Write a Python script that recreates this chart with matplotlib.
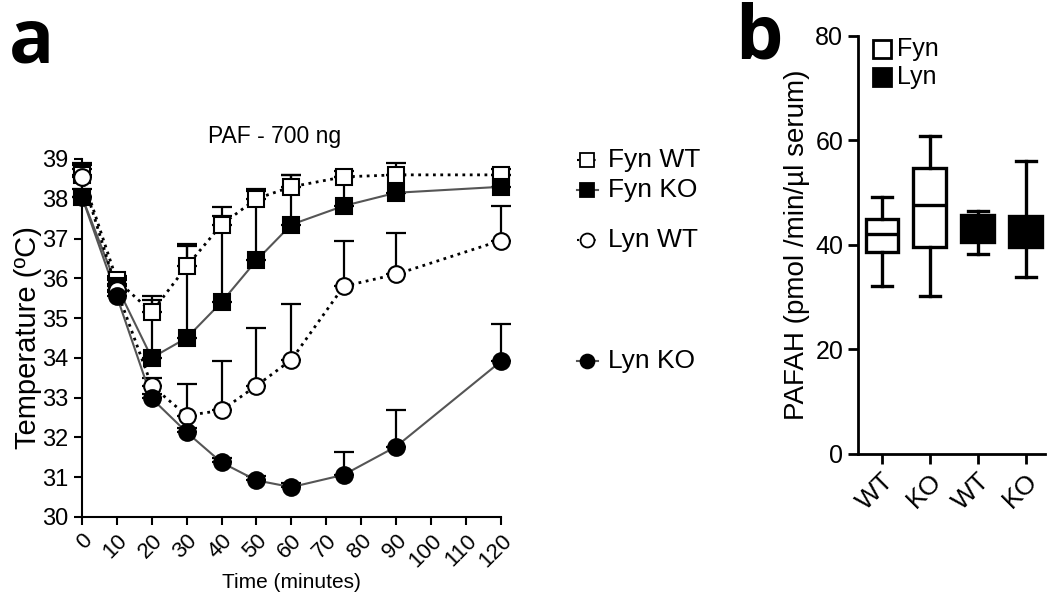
import matplotlib
matplotlib.use('Agg')
import matplotlib.pyplot as plt
import matplotlib.transforms as mtransforms
import numpy as np

plt.rcParams['font.family'] = ['Liberation Sans', 'DejaVu Sans']

# panel a: body temperature after PAF
time = [0, 10, 20, 30, 40, 50, 60, 75, 90, 120]
fyn_wt = [38.6, 35.95, 35.15, 36.3, 37.35, 38.0, 38.3, 38.55, 38.6, 38.6]
fyn_wt_err = [0.3, 0.1, 0.4, 0.55, 0.45, 0.25, 0.3, 0.15, 0.3, 0.15]
fyn_ko = [38.05, 35.8, 34.0, 34.5, 35.4, 36.45, 37.35, 37.82, 38.15, 38.3]
fyn_ko_err = [0.7, 0.2, 1.45, 2.3, 2.17, 1.75, 1.25, 0.73, 0.45, 0.3]
lyn_wt = [38.55, 35.7, 33.3, 32.55, 32.68, 33.3, 33.95, 35.8, 36.1, 36.95]
lyn_wt_err = [0.3, 0.15, 0.2, 0.8, 1.25, 1.45, 1.4, 1.15, 1.03, 0.87]
lyn_ko = [38.05, 35.55, 32.98, 32.13, 31.37, 30.92, 30.75, 31.06, 31.77, 33.91]
lyn_ko_err = [0.2, 0.1, 0.1, 0.1, 0.1, 0.1, 0.1, 0.57, 0.92, 0.94]

# panel b: PAFAH activity box stats (whislo, q1, med, q3, whishi)
box_labels = ['WT', 'KO', 'WT', 'KO']
box_whislo = [32.1, 30.3, 38.2, 33.8]
box_q1 = [38.7, 39.6, 40.5, 39.6]
box_med = [42.0, 47.6, 43.0, 43.0]
box_q3 = [44.9, 54.7, 45.7, 45.5]
box_whishi = [49.1, 60.8, 46.5, 56.1]
box_filled = [False, False, True, True]

fig = plt.figure(figsize=(10.5, 5.96), dpi=100)

# ---------------- panel a ----------------
ax = fig.add_axes([0.078, 0.1326, 0.399, 0.6007])
series = [
    ('Fyn WT', fyn_wt, fyn_wt_err, 's', 'white', 'black', ':', 2.0),
    ('Fyn KO', fyn_ko, fyn_ko_err, 's', 'black', '#555555', '-', 1.5),
    ('Lyn WT', lyn_wt, lyn_wt_err, 'o', 'white', 'black', ':', 2.0),
    ('Lyn KO', lyn_ko, lyn_ko_err, 'o', 'black', '#555555', '-', 1.5),
]
for name, y, err, mk, fc, lc, ls, lw in series:
    ax.errorbar(time, y, yerr=[np.zeros(len(err)), err], fmt='none', ecolor='black',
                elinewidth=1.6, capsize=7, capthick=1.6, clip_on=False, zorder=2)
    ax.plot(time, y, color=lc, ls=ls, lw=lw, zorder=3, clip_on=False)
    ax.plot(time, y, ls='none', marker=mk, ms=12, mfc=fc, mec='black', mew=1.5,
            zorder=4, clip_on=False)

ax.set_xlim(0, 120)
ax.set_ylim(30, 39)
ax.set_xticks(np.arange(0, 121, 10))
ax.set_yticks(np.arange(30, 40, 1))
ax.tick_params(axis='both', direction='out', length=6, width=1.5, labelsize=17)
ax.tick_params(axis='x', labelsize=16)
for lab in ax.get_xticklabels():
    lab.set_rotation(45)
    lab.set_ha('right')
    lab.set_rotation_mode('anchor')
for s in ['top', 'right']:
    ax.spines[s].set_visible(False)
for s in ['left', 'bottom']:
    ax.spines[s].set_linewidth(1.5)
ax.set_xlabel('Time (minutes)', fontsize=15, labelpad=1)
ax.set_ylabel('Temperature (ºC)', fontsize=21, labelpad=0)
ax.text(0.46, 1.03, 'PAF - 700 ng', transform=ax.transAxes, ha='center', va='bottom', fontsize=16.5)

# side legend next to line ends
trans = mtransforms.blended_transform_factory(ax.transAxes, ax.transData)
legend_y = [38.97, 38.22, 36.96, 33.92]
for (name, y, err, mk, fc, lc, ls, lw), ly in zip(series, legend_y):
    ax.plot([1.181, 1.232], [ly, ly], transform=trans, color=lc, ls=ls, lw=1.5, clip_on=False)
    ax.plot([1.205], [ly], transform=trans, marker=mk, ms=10, mfc=fc, mec='black', mew=1.3,
            clip_on=False)
    ax.text(1.255, ly, name, transform=trans, va='center', ha='left', fontsize=19)

fig.text(0.008, 0.99, 'a', fontsize=54, fontweight='bold', family='Open Sans', va='top')

# ---------------- panel b ----------------
bx = fig.add_axes([0.817, 0.2383, 0.178, 0.7017])
stats = []
for i in range(len(box_labels)):
    stats.append(dict(whislo=box_whislo[i], q1=box_q1[i], med=box_med[i],
                      q3=box_q3[i], whishi=box_whishi[i], fliers=[]))
bp = bx.bxp(stats, positions=range(len(box_labels)), widths=0.68, patch_artist=True,
            showfliers=False, capwidths=0.42,
            boxprops=dict(linewidth=2.4, edgecolor='black'),
            medianprops=dict(linewidth=2.4, color='black'),
            whiskerprops=dict(linewidth=2.4, color='black'),
            capprops=dict(linewidth=2.4, color='black'))
for patch, filled in zip(bp['boxes'], box_filled):
    patch.set_facecolor('black' if filled else 'white')

bx.set_xlim(-0.5, 3.4)
bx.set_ylim(0, 80)
bx.set_yticks([0, 20, 40, 60, 80])
bx.set_xticks(range(len(box_labels)))
bx.set_xticklabels(box_labels)
bx.tick_params(axis='both', direction='out', length=7, width=2, labelsize=18)
bx.tick_params(axis='x', labelsize=19)
for lab in bx.get_xticklabels():
    lab.set_rotation(45)
    lab.set_ha('right')
    lab.set_rotation_mode('anchor')
for s in ['top', 'right']:
    bx.spines[s].set_visible(False)
for s in ['left', 'bottom']:
    bx.spines[s].set_linewidth(2)
bx.set_ylabel('PAFAH (pmol /min/µl serum)', fontsize=20, labelpad=4)

# legend
bx.plot([0.0], [77.4], marker='s', ms=13, mfc='white', mec='black', mew=2, clip_on=False)
bx.plot([0.0], [72.1], marker='s', ms=13, mfc='black', mec='black', mew=2, clip_on=False)
bx.text(0.32, 77.4, 'Fyn', va='center', ha='left', fontsize=18)
bx.text(0.32, 72.1, 'Lyn', va='center', ha='left', fontsize=18)

fig.text(0.7, 0.997, 'b', fontsize=54, fontweight='bold', family='Open Sans', va='top')

fig.savefig('out.png', dpi=100)
